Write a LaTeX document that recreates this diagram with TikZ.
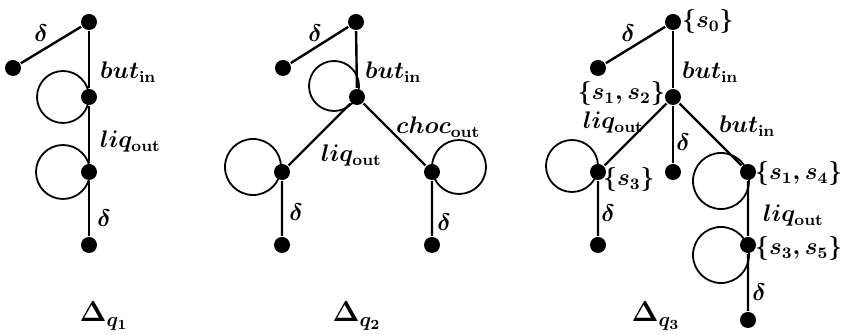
\documentclass[tikz,border=0pt]{standalone}
\usetikzlibrary{calc}
\begin{document}
\begin{tikzpicture}[x=0.5pt,y=-0.5pt,line width=1.2pt,
  dot/.style={circle,fill,inner sep=0pt,minimum size=8pt},
  lab/.style={font=\large\boldmath,inner sep=1pt},
  title/.style={font=\Large\boldmath,inner sep=1pt}]
\useasboundingbox (0,0) rectangle (848,335);
\tikzset{selfloop/.style={line width=0.9pt}}
% ---------- Delta q1
\node[dot] (a0) at (89,22) {};
\node[dot] (a1) at (13,68) {};
\node[dot] (a2) at (89,97) {};
\node[dot] (a3) at (89,172) {};
\node[dot] (a4) at (89,245) {};
\draw (a0) -- (a1);
\draw (a0) -- (a2) -- (a3) -- (a4);
\draw[selfloop] ($(a2)+(-26,0)$) circle[radius=13pt];
\draw[selfloop] ($(a3)+(-26,0)$) circle[radius=13.5pt];
\node[lab] (la1) at (41,33) {$\delta$};
\node[lab,anchor=west] (la2) at (97,72) {$but_{\mathbf{in}}$};
\node[lab,anchor=west] (la3) at (97,142) {$liq_{\mathbf{out}}$};
\node[lab] (la4) at (104,218) {$\delta$};
\node[title] (ta) at (104,316) {$\Delta_{q_1}$};
% ---------- Delta q2
\node[dot] (b0) at (356,22) {};
\node[dot] (b1) at (283,68) {};
\node[dot] (b2) at (357,97) {};
\node[dot] (b3) at (282,172) {};
\node[dot] (b4) at (432,172) {};
\node[dot] (b5) at (282,245) {};
\node[dot] (b6) at (432,245) {};
\draw (b0) -- (b1);
\draw (b0) -- (b2);
\draw (b2) -- (b3) -- (b5);
\draw (b2) -- (b4) -- (b6);
\draw[selfloop] ($(b2)+(-23,-11)$) circle[radius=12.5pt];
\draw[selfloop] ($(b3)+(-29,-5)$) circle[radius=14pt];
\draw[selfloop] ($(b4)+(27,-5)$) circle[radius=13.5pt];
\node[lab] (lb1) at (315,33) {$\delta$};
\node[lab,anchor=west] (lb2) at (362,72) {$but_{\mathbf{in}}$};
\node[lab,anchor=west] (lb3) at (393,127) {$choc_{\mathbf{out}}$};
\node[lab,anchor=west] (lb4) at (318,156) {$liq_{\mathbf{out}}$};
\node[lab] (lb5) at (296,212) {$\delta$};
\node[lab] (lb6) at (444,222) {$\delta$};
\node[title] (tb) at (357,316) {$\Delta_{q_2}$};
% ---------- Delta q3
\node[dot] (c0) at (673,22) {};
\node[dot] (c1) at (598,68) {};
\node[dot] (c2) at (673,97) {};
\node[dot] (c3) at (598,172) {};
\node[dot] (c4) at (673,172) {};
\node[dot] (c5) at (748,172) {};
\node[dot] (c6) at (598,245) {};
\node[dot] (c7) at (748,245) {};
\node[dot] (c8) at (748,320) {};
\draw (c0) -- (c1);
\draw (c0) -- (c2);
\draw (c2) -- (c3) -- (c6);
\draw (c2) -- (c4);
\draw (c2) -- (c5) -- (c7) -- (c8);
\draw[selfloop] ($(c3)+(-26,-6)$) circle[radius=13pt];
\draw[selfloop] ($(c5)+(-27,9)$) circle[radius=14pt];
\draw[selfloop] ($(c7)+(-27,10)$) circle[radius=14pt];
\node[lab] (lc1) at (628,33) {$\delta$};
\node[lab,anchor=west] (lc0) at (679,22) {$\{s_0\}$};
\node[lab,anchor=west] (lc2) at (679,72) {$but_{\mathbf{in}}$};
\node[lab,anchor=east] (lc3) at (668,94) {$\{s_1,s_2\}$};
\node[lab,anchor=west] (lc4) at (580,123) {$liq_{\mathbf{out}}$};
\node[lab] (lc5) at (683,142) {$\delta$};
\node[lab,anchor=west] (lc6) at (716,126) {$but_{\mathbf{in}}$};
\node[lab,anchor=west] (lc7) at (600,180) {$\{s_3\}$};
\node[lab] (lc8) at (608,213) {$\delta$};
\node[lab,anchor=west] (lc9) at (752,174) {$\{s_1,s_4\}$};
\node[lab,anchor=west] (lc10) at (760,216) {$liq_{\mathbf{out}}$};
\node[lab,anchor=west] (lc11) at (752,249) {$\{s_3,s_5\}$};
\node[lab] (lc12) at (759,292) {$\delta$};
\node[title] (tc) at (656,316) {$\Delta_{q_3}$};
\end{tikzpicture}
\end{document}
